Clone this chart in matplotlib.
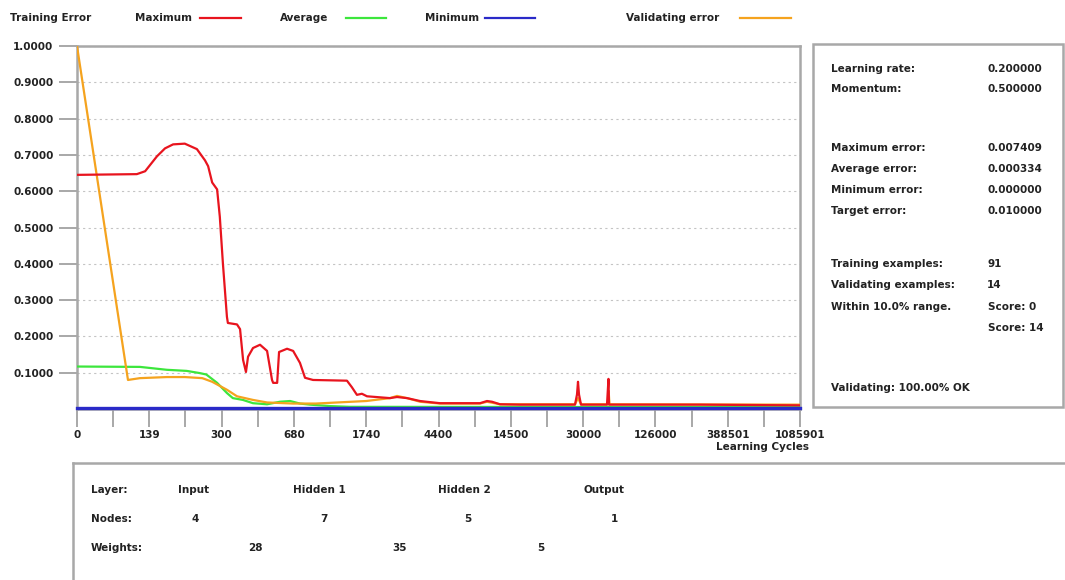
import numpy as np
import matplotlib
matplotlib.use("Agg")
import matplotlib.pyplot as plt
from matplotlib.lines import Line2D
from matplotlib.patches import Rectangle

# ---------------- data ----------------
tick_labels = [0, 139, 300, 680, 1740, 4400, 14500, 30000, 126000, 388501, 1085901]

max_x = [0, 115, 131, 156, 174, 192, 218, 245, 263, 270, 279, 290, 296, 307, 328, 333,
         381, 397, 413, 428, 439, 465, 502, 539, 565, 571, 592, 602, 644, 676, 769, 843,
         960, 1458, 1530, 1604, 1677, 1769, 2616, 2874, 3242, 3720, 4198, 4610, 10198,
         11175, 11873, 12991, 16472, 28264, 28693, 28907, 29121, 29550, 61739, 63700,
         64395, 287943, 1085901]
max_err = [0.645, 0.647, 0.655, 0.696, 0.718, 0.729, 0.731, 0.716, 0.685, 0.669, 0.624,
           0.605, 0.53, 0.40, 0.254, 0.237, 0.233, 0.22, 0.135, 0.102, 0.144, 0.168, 0.177,
           0.16, 0.08, 0.072, 0.072, 0.157, 0.166, 0.16, 0.127, 0.086, 0.08, 0.078, 0.06,
           0.039, 0.042, 0.035, 0.03, 0.033, 0.03, 0.022, 0.018, 0.016, 0.016, 0.022, 0.02,
           0.013, 0.012, 0.012, 0.04, 0.075, 0.04, 0.012, 0.012, 0.083, 0.012, 0.012, 0.01]

avg_x = [0, 121, 178, 222, 251, 266, 290, 328, 359, 412, 465, 539, 607, 660, 769, 915,
         1209, 1500, 1085901]
avg_err = [0.117, 0.116, 0.108, 0.105, 0.099, 0.095, 0.072, 0.044, 0.03, 0.025, 0.016,
           0.013, 0.02, 0.022, 0.015, 0.012, 0.008, 0.006, 0.005]

min_x = [0, 1085901]
min_err = [0.004, 0.004]

val_x = [0, 98, 121, 178, 218, 257, 279, 328, 381, 465, 539, 676, 1000, 1740, 2616, 2874,
         3242, 3720, 4610, 10198, 11175, 13000, 28264, 28907, 29550, 63000, 63900, 65000,
         1085901]
val_err = [1.0, 0.08, 0.085, 0.088, 0.088, 0.085, 0.075, 0.053, 0.035, 0.025, 0.018,
           0.015, 0.015, 0.022, 0.03, 0.036, 0.03, 0.02, 0.015, 0.015, 0.02, 0.013, 0.013,
           0.03, 0.013, 0.013, 0.05, 0.013, 0.012]

y_ticks = [0.1, 0.2, 0.3, 0.4, 0.5, 0.6, 0.7, 0.8, 0.9, 1.0]

info_labels = ["Learning rate:", "Momentum:", "Maximum error:", "Average error:",
               "Minimum error:", "Target error:", "Training examples:",
               "Validating examples:", "Within 10.0% range."]
info_values = ["0.200000", "0.500000", "0.007409", "0.000334", "0.000000", "0.010000",
               "91", "14", "Score: 0"]
extra_score = "Score: 14"
status_text = "Validating: 100.00% OK"

layers = ["Input", "Hidden 1", "Hidden 2", "Output"]
nodes = [4, 7, 5, 1]
weights = [28, 35, 5]

# ---------------- styling ----------------
W, H = 1065, 580
FONT = "DejaVu Sans"
FS = 7.5
TXT = "#222222"
GRAY = "#a8a8a8"
C_MAX, C_AVG, C_MIN, C_VAL = "#e8141e", "#3ce63c", "#2a2ac8", "#f5a31e"

plt.rcParams["font.family"] = FONT
fig = plt.figure(figsize=(W / 100, H / 100), dpi=100)
fig.patch.set_facecolor("white")

def fx(px):
    return px / W

def fy(py):
    return 1 - py / H

def ftext(x, y, s, ha="left"):
    fig.text(fx(x), fy(y), s, ha=ha, va="center", fontsize=FS,
             fontweight="bold", color=TXT)

# main axes
L, R, T, B = 77, 800, 46, 409
ax = fig.add_axes([fx(L), fy(B), fx(R - L), (B - T) / H])

pos = np.arange(len(tick_labels), dtype=float)
lab = np.array(tick_labels, dtype=float)

def fwd(x):
    return np.interp(x, lab, pos)

def inv(p):
    return np.interp(p, pos, lab)

ax.set_xscale("function", functions=(fwd, inv))
ax.set_xlim(0, tick_labels[-1])
ax.set_ylim(0, 1.0)

ax.set_xticks(tick_labels)
ax.set_xticklabels([str(v) for v in tick_labels])
ax.set_xticks(inv(pos[:-1] + 0.5), minor=True)
ax.set_yticks(y_ticks)
ax.set_yticklabels([f"{v:.4f}" for v in y_ticks])

for lbl in ax.get_xticklabels() + ax.get_yticklabels():
    lbl.set_fontweight("bold")
    lbl.set_fontsize(FS)
    lbl.set_color(TXT)

ax.tick_params(axis="x", which="both", direction="out", length=13, width=1.4,
               color=GRAY, pad=2)
ax.tick_params(axis="y", which="both", direction="out", length=13, width=1.4,
               color=GRAY, pad=4)

ax.yaxis.grid(True, linestyle=(0, (2, 3)), color="#c4c4c4", linewidth=0.8)
ax.set_axisbelow(True)

for s in ["top", "right", "left", "bottom"]:
    ax.spines[s].set_color(GRAY)
    ax.spines[s].set_linewidth(1.8)

ax.plot(avg_x, avg_err, color=C_AVG, lw=1.6, zorder=3)
ax.plot(val_x, val_err, color=C_VAL, lw=1.6, zorder=4)
ax.plot(max_x, max_err, color=C_MAX, lw=1.6, zorder=5)
ax.plot(min_x, min_err, color=C_MIN, lw=2.4, zorder=6, clip_on=False)

ftext(762, 447, "Learning Cycles", ha="center")

# legend row
ly = 18
ftext(10, ly, "Training Error")
legend_items = [("Maximum", 135, 200, 241, C_MAX), ("Average", 280, 346, 386, C_AVG),
                ("Minimum", 425, 485, 535, C_MIN), ("Validating error", 626, 740, 791, C_VAL)]
for name, tx, x0, x1, col in legend_items:
    ftext(tx, ly, name)
    fig.add_artist(Line2D([fx(x0), fx(x1)], [fy(ly), fy(ly)], color=col, lw=1.6))

# right info panel
fig.add_artist(Rectangle((fx(813), fy(407)), fx(1063 - 813), (407 - 44) / H,
                         fill=False, edgecolor=GRAY, lw=1.8))
rows_y = [69, 89, 148, 169, 190, 211, 264, 285, 307]
for txt, val, yy in zip(info_labels, info_values, rows_y):
    ftext(831, yy, txt)
    ftext(988 if val.startswith("Score") else 987, yy, val)
ftext(988, 328, extra_score)
ftext(831, 388, status_text)

# bottom panel
fig.add_artist(Line2D([fx(73), fx(1065)], [fy(463), fy(463)], color=GRAY, lw=1.8))
fig.add_artist(Line2D([fx(73), fx(73)], [fy(463), 0], color=GRAY, lw=1.8))

ftext(91, 490, "Layer:")
ftext(91, 519, "Nodes:")
ftext(91, 548, "Weights:")
layer_x = [178, 293, 438, 583]
node_x = [195, 324, 468, 614]
weight_x = [255, 400, 541]
for name, x in zip(layers, layer_x):
    ftext(x, 490, name)
for n, x in zip(nodes, node_x):
    ftext(x, 519, str(n), ha="center")
for w, x in zip(weights, weight_x):
    ftext(x, 548, str(w), ha="center")

fig.savefig("out.png", dpi=100, facecolor="white")
